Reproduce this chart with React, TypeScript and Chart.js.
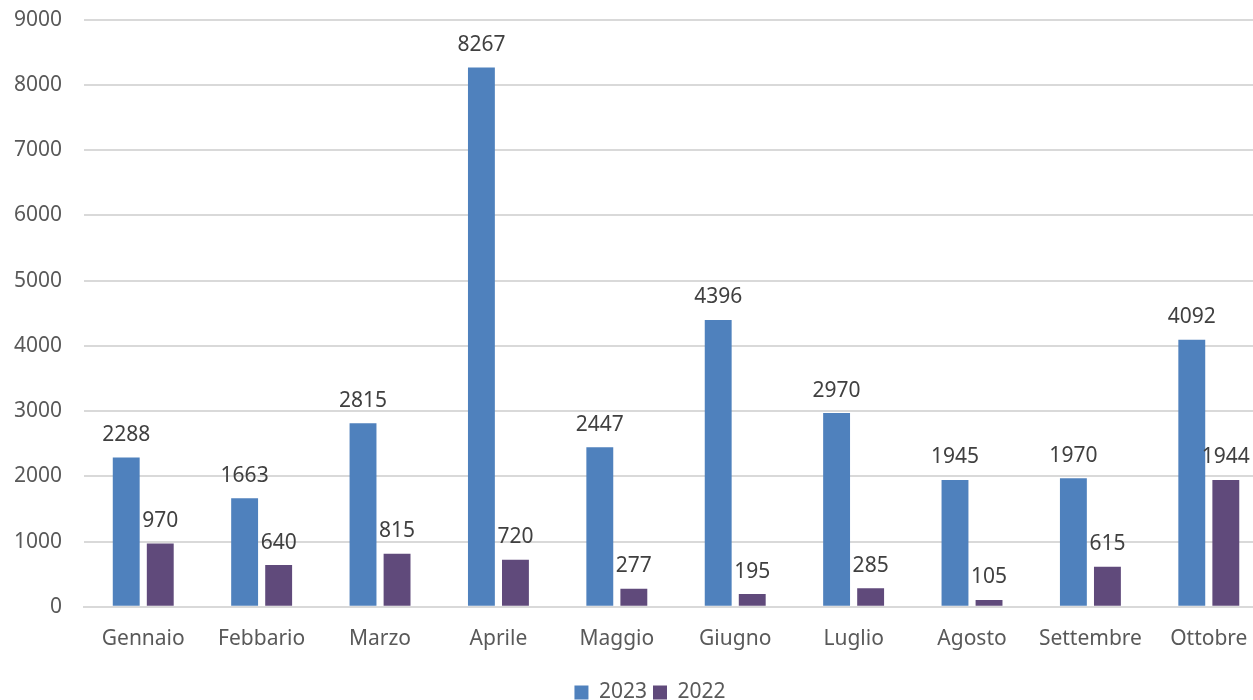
import React, { useEffect, useRef } from "react";
import { Chart, registerables } from "chart.js";

Chart.register(...registerables);

const categories = ["Gennaio", "Febbario", "Marzo", "Aprile", "Maggio", "Giugno", "Luglio", "Agosto", "Settembre", "Ottobre"];
const values2023 = [2288, 1663, 2815, 8267, 2447, 4396, 2970, 1945, 1970, 4092];
const values2022 = [970, 640, 815, 720, 277, 195, 285, 105, 615, 1944];
const yTicks = [0, 1000, 2000, 3000, 4000, 5000, 6000, 7000, 8000, 9000];

const FONT = "'Noto Sans', 'Open Sans', sans-serif";
const FS = 21;

const dataLabels = {
  id: "dataLabels",
  afterDatasetsDraw(chart: any) {
    const ctx = chart.ctx;
    ctx.save();
    ctx.font = `${FS}px ${FONT}`;
    ctx.fillStyle = "#404040";
    ctx.textAlign = "center";
    ctx.textBaseline = "bottom";
    chart.data.datasets.forEach((ds: any, i: number) => {
      const meta = chart.getDatasetMeta(i);
      meta.data.forEach((bar: any, j: number) => {
        ctx.fillText(String(ds.data[j]), bar.x, bar.y - 12);
      });
    });
    ctx.restore();
  },
};

const legendShift = {
  id: "legendShift",
  afterLayout(chart: any) {
    if (chart.legend) {
      chart.legend.left += 20;
      chart.legend.right += 20;
    }
  },
};

export default function App() {
  const ref = useRef<HTMLCanvasElement>(null);
  useEffect(() => {
    const chart = new Chart(ref.current!, {
      type: "bar",
      data: {
        labels: categories,
        datasets: [
          { label: "2023", data: values2023, backgroundColor: "#4F81BD", borderColor: "#4F81BD", borderWidth: 0 },
          { label: "2022", data: values2022, backgroundColor: "#604A7B", borderColor: "#604A7B", borderWidth: 0 },
        ],
      },
      options: {
        animation: false,
        responsive: false,
        maintainAspectRatio: false,
        layout: { padding: { top: 0, right: 13, left: 0, bottom: 0 } },
        datasets: { bar: { categoryPercentage: 0.575, barPercentage: 0.79 } },
        plugins: {
          legend: {
            position: "bottom",
            labels: {
              boxWidth: 14,
              boxHeight: 14,
              color: "#595959",
              font: { size: FS, family: FONT },
              padding: 6,
            },
          },
          tooltip: { enabled: false },
        },
        scales: {
          x: {
            grid: { display: false },
            border: { display: true, color: "#D9D9D9", width: 2 },
            ticks: { color: "#595959", font: { size: FS, family: FONT }, padding: 12 },
            afterFit: (scale: any) => {
              scale.height += 12;
            },
          },
          y: {
            min: 0,
            max: 9000,
            afterBuildTicks: (axis: any) => {
              axis.ticks = yTicks.map((v) => ({ value: v }));
            },
            grid: { color: "#D9D9D9", lineWidth: 2, drawTicks: false },
            border: { display: false },
            ticks: {
              color: "#595959",
              font: { size: FS, family: FONT },
              padding: 22,
              callback: (v: any) => String(v),
            },
          },
        },
      },
      plugins: [dataLabels, legendShift],
    });
    return () => chart.destroy();
  }, []);
  return (
    <div style={{ position: "fixed", left: 0, top: 0, width: 1253, height: 700, overflow: "hidden", background: "#fff" }}>
      <canvas
        ref={ref}
        width={1289}
        height={728}
        style={{ display: "block", position: "absolute", left: -8, top: -15 }}
      />
    </div>
  );
}
